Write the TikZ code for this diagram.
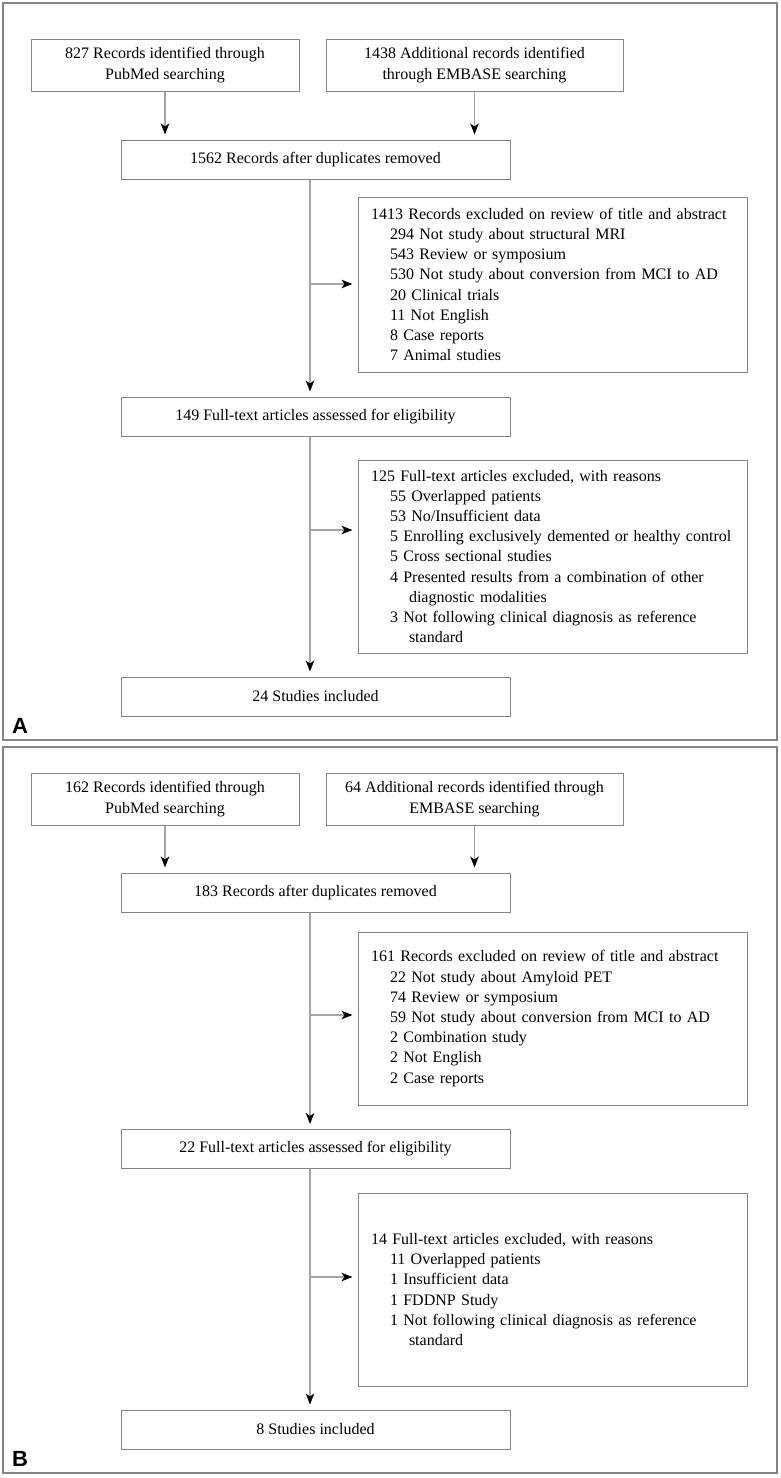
\documentclass[tikz,border=0pt]{standalone}
\usepackage{fontspec}
\setmainfont{Liberation Serif}
\setsansfont{Liberation Sans}
\usetikzlibrary{arrows.meta}
\definecolor{boxline}{HTML}{858585}
\definecolor{flowline}{HTML}{A3A3A3}
\newcommand{\reason}[1]{\mbox{\hspace{19pt}#1}}
\newcommand{\reasonmore}[1]{\mbox{\hspace{38pt}#1}}

\begin{document}
\begin{tikzpicture}[x=1pt, y=-1pt,
  box/.style={draw=boxline, line width=1pt, inner sep=0pt, font=\fontsize{16}{20.2}\selectfont},
  srcbox/.style={box, align=center, minimum width=268pt, minimum height=52pt},
  stepbox/.style={box, align=center, minimum width=389pt, minimum height=39pt},
  exclbox/.style={box, align=left, text width=363pt, inner xsep=13pt},
  flow/.style={draw=flowline, line width=1.3pt, shorten >=5pt, -{Stealth[length=11pt, width=8.5pt, inset=3pt, color=black]}},
  panel/.style={anchor=base west, inner sep=0pt, font=\sffamily\bfseries\fontsize{22}{22}\selectfont}]
  \useasboundingbox (0,0) rectangle (780,1478);
  \draw[boxline, line width=1.4pt] (3,3) rectangle (777,740);
  \draw[boxline, line width=1.4pt] (3,747) rectangle (777,1473);

  \node[srcbox] (pubA) at (165,65) {827 Records identified through\\PubMed searching};
  \node[srcbox, minimum width=297pt] (embA) at (474.5,65) {1438 Additional records identified\\through EMBASE searching};
  \node[stepbox] (dupA) at (315.5,159.5) {1562 Records after duplicates removed};
  \node[exclbox, minimum height=175pt] (exA1) at (552.5,284.5) {1413 Records excluded on review of title and abstract\\
    \reason{294 Not study about structural MRI}\\ \reason{543 Review or symposium}\\
    \reason{530 Not study about conversion from MCI to AD}\\ \reason{20 Clinical trials}\\
    \reason{11 Not English}\\ \reason{8 Case reports}\\ \reason{7 Animal studies}};
  \node[stepbox] (fullA) at (315.5,416.5) {149 Full-text articles assessed for eligibility};
  \node[exclbox, minimum height=193pt] (exA2) at (552.5,556.5) {125 Full-text articles excluded, with reasons\\
    \reason{55 Overlapped patients}\\ \reason{53 No/Insufficient data}\\
    \reason{5 Enrolling exclusively demented or healthy control}\\ \reason{5 Cross sectional studies}\\
    \reason{4 Presented results from a combination of other}\\ \reasonmore{diagnostic modalities}\\
    \reason{3 Not following clinical diagnosis as reference}\\ \reasonmore{standard}};
  \node[stepbox] (inclA) at (315.5,696.5) {24 Studies included};
  \node[panel] (labA) at (12,733) {A};

  \coordinate (spA) at (310,0);
  \coordinate (brA1) at (310,284);
  \coordinate (brA2) at (310,530);
  \draw[flow] (pubA) -- (pubA |- dupA.north);
  \draw[flow] (embA) -- (embA |- dupA.north);
  \draw[flow] (dupA.south -| spA) -- (fullA.north -| spA);
  \draw[flow] (brA1) -- (brA1 -| exA1.west);
  \draw[flow] (fullA.south -| spA) -- (inclA.north -| spA);
  \draw[flow] (brA2) -- (brA2 -| exA2.west);

  \node[srcbox] (pubB) at (165,799) {162 Records identified through\\PubMed searching};
  \node[srcbox, minimum width=297pt] (embB) at (474.5,799) {64 Additional records identified through\\EMBASE searching};
  \node[stepbox] (dupB) at (315.5,892.5) {183 Records after duplicates removed};
  \node[exclbox, minimum height=173pt] (exB1) at (552.5,1018.5) {161 Records excluded on review of title and abstract\\
    \reason{22 Not study about Amyloid PET}\\ \reason{74 Review or symposium}\\
    \reason{59 Not study about conversion from MCI to AD}\\ \reason{2 Combination study}\\
    \reason{2 Not English}\\ \reason{2 Case reports}};
  \node[stepbox] (fullB) at (315.5,1149) {22 Full-text articles assessed for eligibility};
  \node[exclbox, minimum height=193pt] (exB2) at (552.5,1289.5) {14 Full-text articles excluded, with reasons\\
    \reason{11 Overlapped patients}\\ \reason{1 Insufficient data}\\ \reason{1 FDDNP Study}\\
    \reason{1 Not following clinical diagnosis as reference}\\ \reasonmore{standard}};
  \node[stepbox] (inclB) at (315.5,1429.5) {8 Studies included};
  \node[panel] (labB) at (12,1466) {B};

  \coordinate (spB) at (310,0);
  \coordinate (brB1) at (310,1015);
  \coordinate (brB2) at (310,1277);
  \draw[flow] (pubB) -- (pubB |- dupB.north);
  \draw[flow] (embB) -- (embB |- dupB.north);
  \draw[flow] (dupB.south -| spB) -- (fullB.north -| spB);
  \draw[flow] (brB1) -- (brB1 -| exB1.west);
  \draw[flow] (fullB.south -| spB) -- (inclB.north -| spB);
  \draw[flow] (brB2) -- (brB2 -| exB2.west);
\end{tikzpicture}
\end{document}
